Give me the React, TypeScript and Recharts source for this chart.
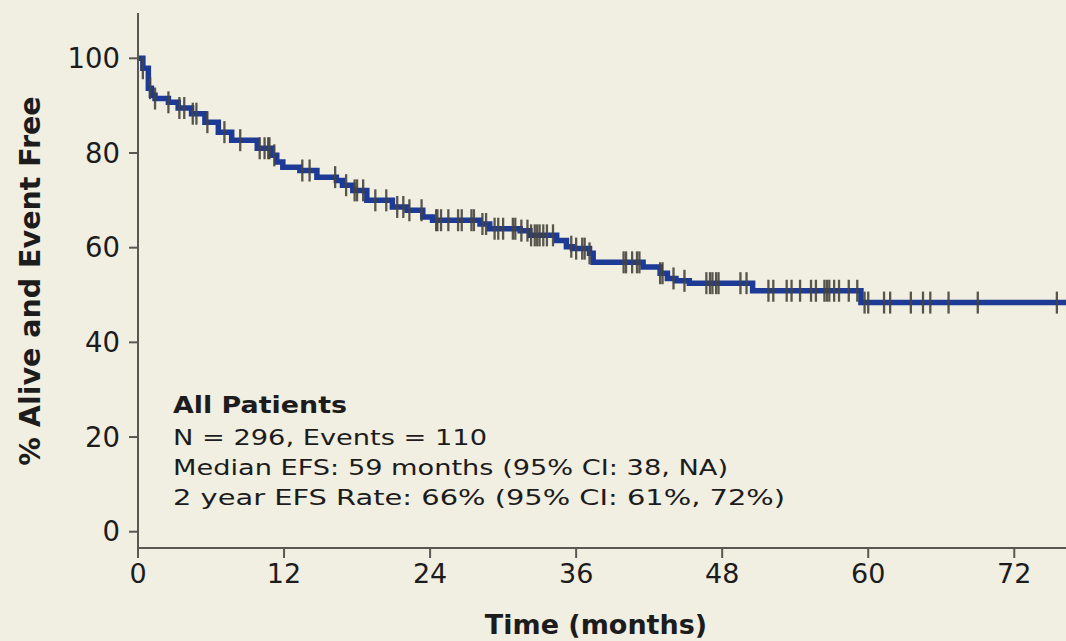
import React from 'react';
import { ComposedChart, Line, Scatter, XAxis, YAxis } from 'recharts';

// Kaplan-Meier step curve (time in months, % alive and event free)
const stepTimes = [
  0, 0.4, 0.85, 1.1, 1.4, 2.5, 3.3, 4.4, 5.5, 6.6, 7.7, 9.8, 11.0, 11.4, 11.9,
  13.3, 14.7, 16.3, 16.8, 17.65, 18.8, 20.9, 22.1, 23.4, 24.2, 28.1, 28.9, 31.4,
  32.2, 34.4, 35.2, 35.7, 37.1, 37.4, 41.5, 42.9, 43.5, 44.2, 45.3, 50.5, 59.4, 76.25,
];
const stepValues = [
  100, 97.9, 93.7, 92.2, 91.5, 90.7, 89.5, 88.3, 86.5, 84.4, 82.7, 81, 79.5, 78.1, 77.0,
  76.3, 74.9, 74.2, 73.2, 72.1, 70.0, 68.6, 67.9, 66.5, 65.8, 65.0, 64.0, 63.6,
  62.6, 61.5, 60.2, 59.8, 58.8, 56.9, 55.9, 54.6, 53.5, 53.0, 52.5, 50.9, 48.4, 48.4,
];

// Censoring times (months)
const censorTimes = [
  0.4, 1.0, 1.4, 2.5, 3.4, 3.8, 4.5, 4.8, 5.7, 7.1, 8.4, 10.0, 10.4, 10.7, 10.8, 11.2,
  13.5, 14.1, 16.2, 17.1, 17.8, 18.0, 18.5, 19.5, 20.4, 21.3, 21.8, 22.3, 23.3, 24.5,
  24.6, 24.9, 25.5, 26.3, 26.6, 27.4, 27.6, 28.3, 28.6, 29.3, 29.6, 30.0, 30.8, 31.0,
  31.5, 32.0, 32.3, 32.6, 32.8, 33.0, 33.3, 33.6, 34.1, 35.6, 36.0, 36.5, 36.7, 37.1,
  39.9, 40.1, 40.6, 41.0, 41.2, 42.9, 43.1, 44.0, 44.9, 46.7, 47.0, 47.2, 47.5, 47.7,
  49.5, 50.0, 51.8, 52.2, 53.3, 53.7, 54.4, 55.3, 55.7, 56.4, 56.6, 56.8, 57.2, 57.6,
  58.4, 59.1, 59.7, 60.0, 61.3, 61.8, 63.5, 64.5, 65.1, 66.6, 69.0, 75.5,
];

const xTicks = [0, 12, 24, 36, 48, 60, 72];
const yTicks = [0, 20, 40, 60, 80, 100];

const annotationTitle = 'All Patients';
const annotationLines = [
  'N = 296, Events = 110',
  'Median EFS: 59 months (95% CI: 38, NA)',
  '2 year EFS Rate: 66% (95% CI: 61%, 72%)',
];

const curve = stepTimes.map((t, i) => ({ t, v: stepValues[i] }));
const valueAt = (t: number) => {
  let v = stepValues[0];
  for (let i = 0; i < stepTimes.length; i++) {
    if (stepTimes[i] <= t) v = stepValues[i];
  }
  return v;
};
const censors = censorTimes.map((t) => ({ t, v: valueAt(t) }));

const BG = '#f1eee2';
const AXIS = '#5a5852';
const TEXT = '#1c1c1c';
const BLUE = '#1d3a96';
const FONT = '"DejaVu Sans", Verdana, sans-serif';

const CensorMark = (props: any) => {
  const { cx, cy } = props;
  if (cx == null || cy == null) return null;
  return (
    <line x1={cx} x2={cx} y1={cy - 11} y2={cy + 11} stroke="#46443c" strokeWidth={2.3} strokeOpacity={0.9} />
  );
};

export default function App() {
  return (
    <div style={{ position: 'absolute', left: 0, top: 0, width: 1066, height: 641, background: BG, overflow: 'hidden' }}>
      <ComposedChart width={1066} height={641} margin={{ top: 13, right: 0, bottom: 0, left: 0 }}>
        <XAxis
          type="number"
          dataKey="t"
          domain={[0, 76.25]}
          allowDataOverflow
          ticks={xTicks}
          interval={0}
          height={93}
          tickSize={10}
          tickMargin={6}
          axisLine={{ stroke: AXIS, strokeWidth: 2 }}
          tickLine={{ stroke: AXIS, strokeWidth: 2 }}
          tick={{ fill: TEXT, fontSize: 27, fontFamily: FONT }}
        />
        <YAxis
          type="number"
          dataKey="v"
          domain={[-3.44, 109.57]}
          allowDataOverflow
          ticks={yTicks}
          interval={0}
          width={138}
          tickSize={9}
          tickMargin={9}
          axisLine={{ stroke: AXIS, strokeWidth: 2 }}
          tickLine={{ stroke: AXIS, strokeWidth: 2 }}
          tick={{ fill: TEXT, fontSize: 27.5, fontFamily: FONT }}
        />
        <Line
          data={curve}
          dataKey="v"
          type="stepAfter"
          stroke={BLUE}
          strokeWidth={5.5}
          dot={false}
          activeDot={false}
          isAnimationActive={false}
        />
        <Scatter data={censors} dataKey="v" shape={CensorMark} isAnimationActive={false} />
      </ComposedChart>
      <svg
        width={1066}
        height={641}
        style={{ position: 'absolute', left: 0, top: 0, pointerEvents: 'none' }}
      >
        <text
          x={40}
          y={281}
          textAnchor="middle"
          transform="rotate(-90, 40, 281)"
          fontFamily={FONT}
          fontWeight="bold"
          fontSize={28.5}
          fill={TEXT}
        >
          % Alive and Event Free
        </text>
        <text x={596} y={634} textAnchor="middle" fontFamily={FONT} fontWeight="bold" fontSize={27} fill={TEXT}>
          Time (months)
        </text>
        <text
          x={173}
          y={413}
          fontFamily={FONT}
          fontWeight="bold"
          fontSize={22.5}
          fill={TEXT}
          textLength={174}
          lengthAdjust="spacingAndGlyphs"
        >
          {annotationTitle}
        </text>
        {annotationLines.map((s, i) => (
          <text
            key={i}
            x={173}
            y={445 + i * 30}
            fontFamily={FONT}
            fontSize={22}
            fill={TEXT}
            textLength={[314, 555, 612][i]}
            lengthAdjust="spacingAndGlyphs"
          >
            {s}
          </text>
        ))}
      </svg>
    </div>
  );
}
